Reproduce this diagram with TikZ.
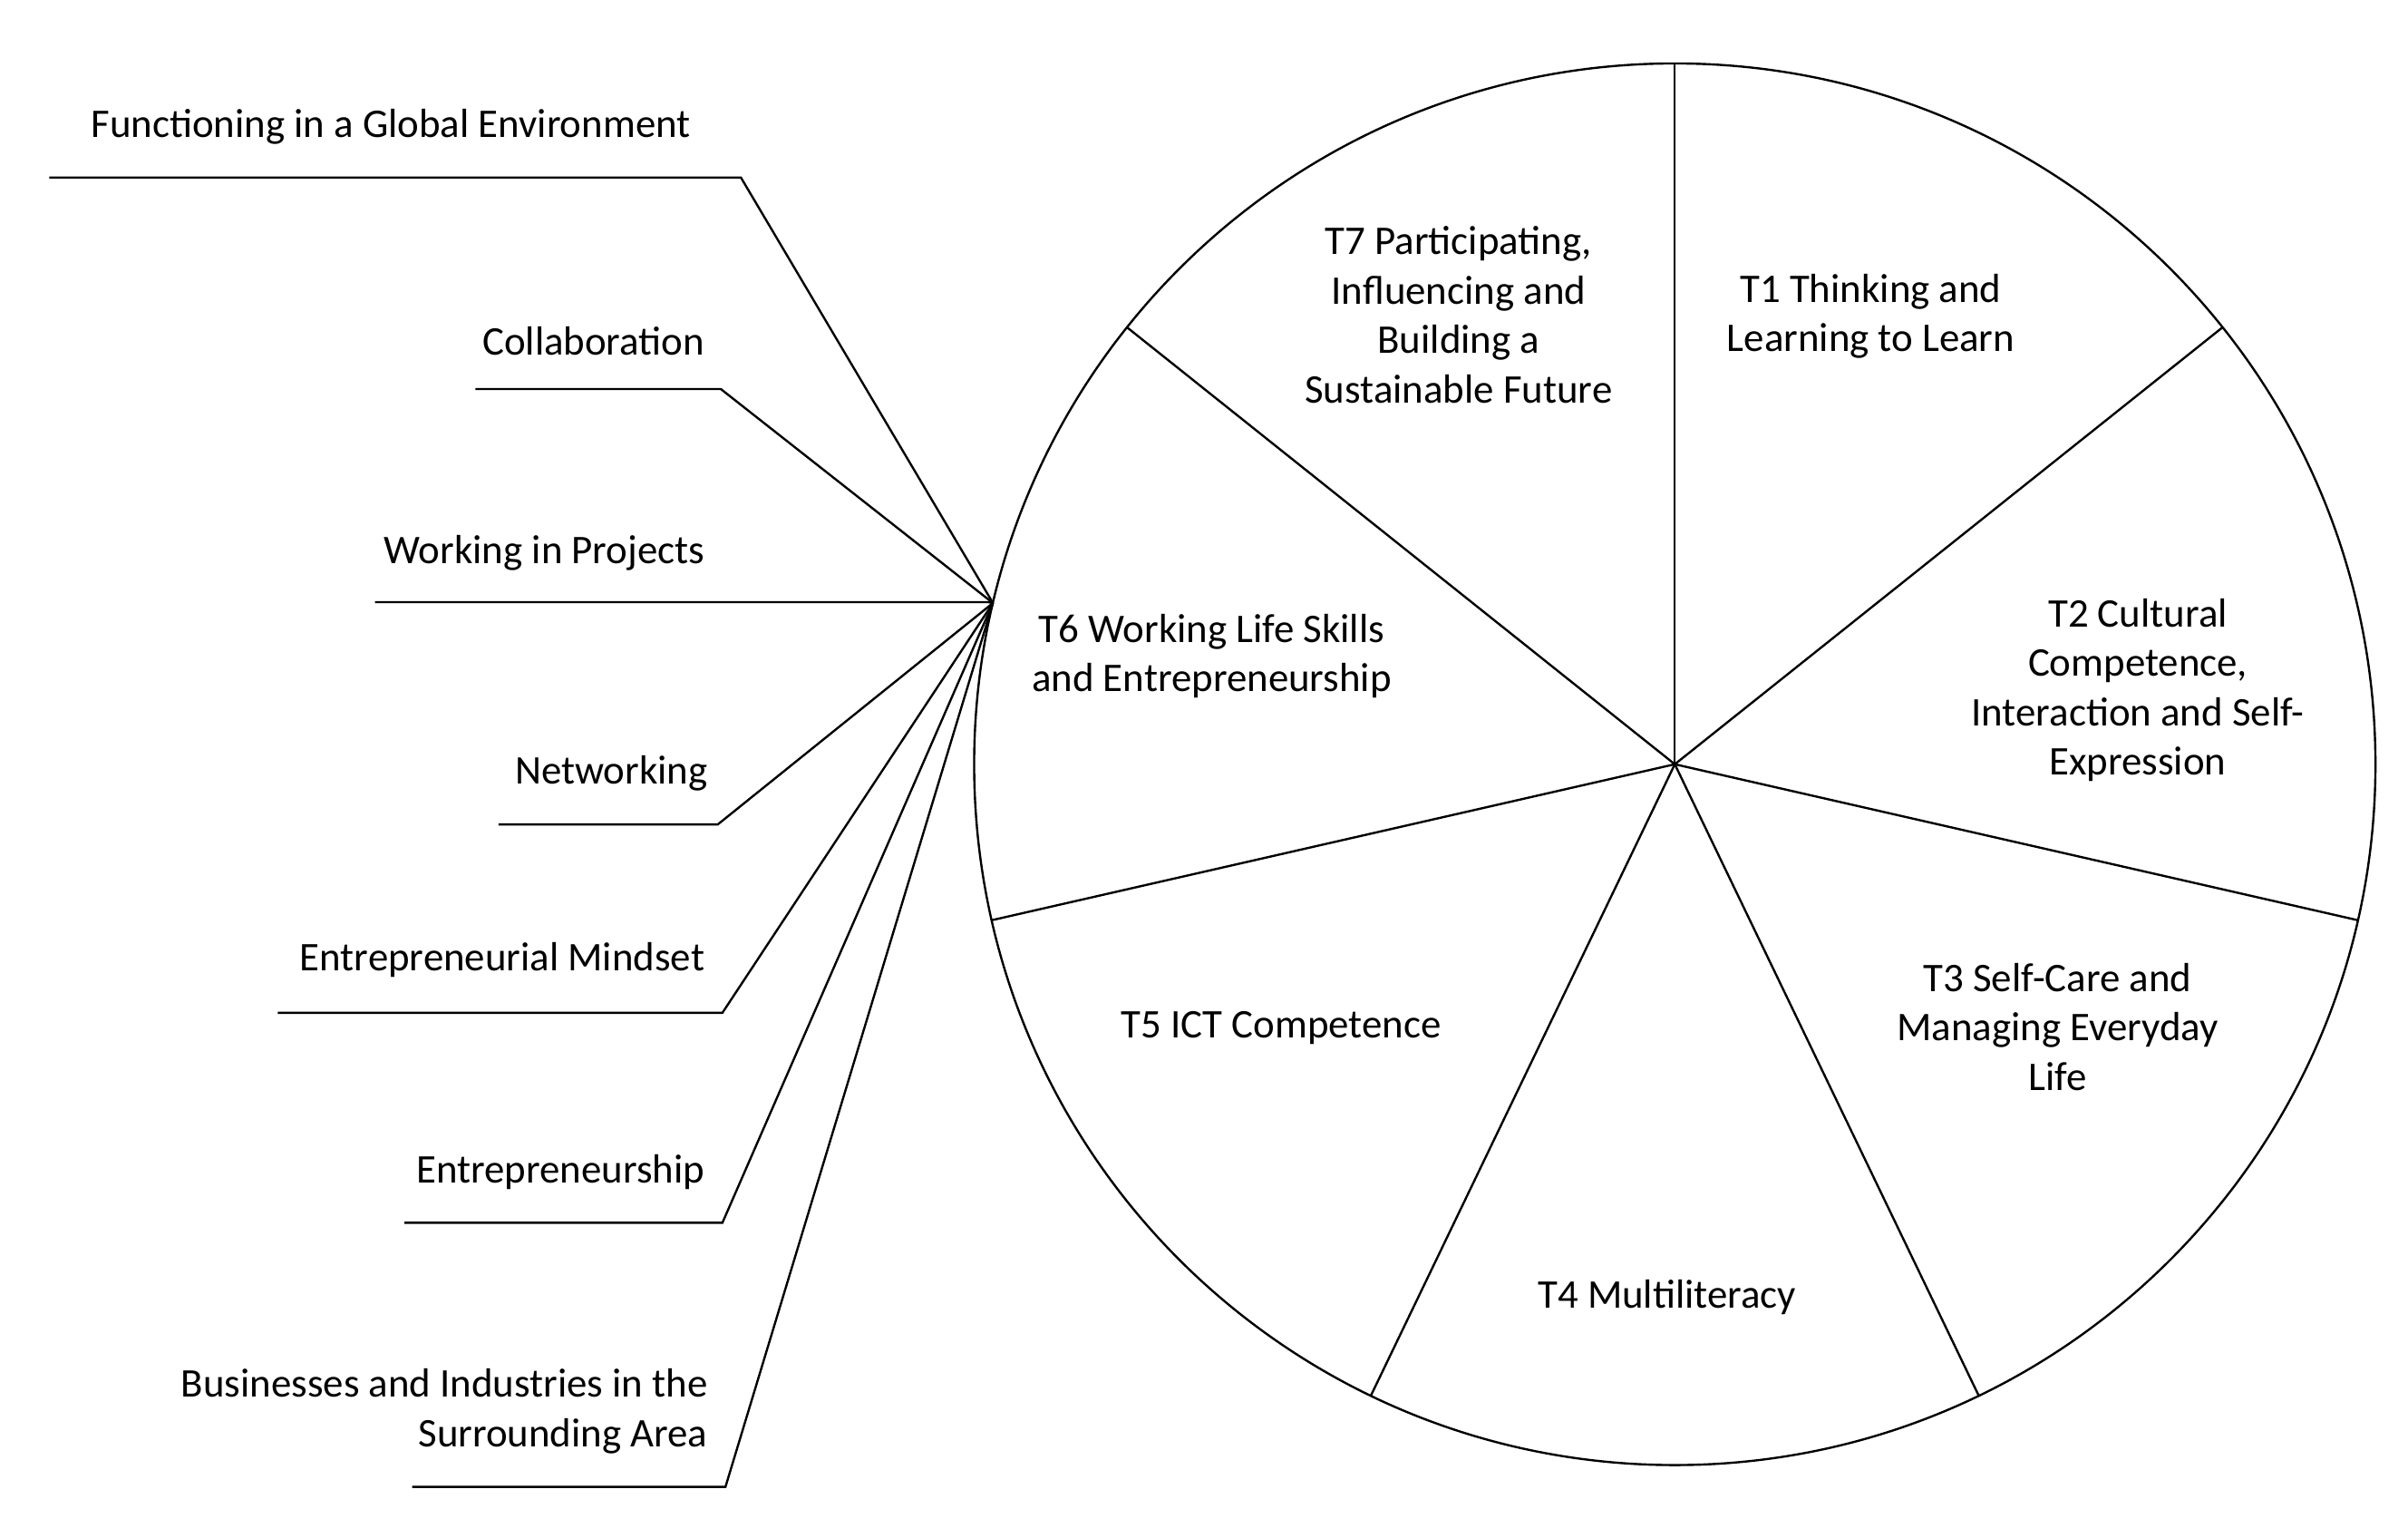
\documentclass[tikz,border=0pt]{standalone}
\usepackage{fontspec}
\setmainfont{Carlito}
\usetikzlibrary{calc}

\begin{document}
\begin{tikzpicture}[x=0.02cm, y=-0.02cm, line width=0.8pt,
  topic/.style={align=center, font=\fontsize{15}{18.2}\selectfont},
  skill/.style={anchor=east, align=right, font=\fontsize{15}{18.2}\selectfont}]

   % Rahmen
   \useasboundingbox (0,0) rectangle (1560,996);

   % Kreis und Sektoren
   \coordinate (c) at (1085,495);
   \draw (c) circle [radius=9.08cm];
   \foreach \a [count=\i] in {90,38.57,-12.86,-64.29,-115.71,-167.14,141.43}
      \draw (c) -- ($(c)+(\a:9.08cm)$) coordinate (s\i);
   \coordinate (hub) at ($(c)+(166.7:9.08cm)$);

   % Themen
   \node [topic] (t1) at (1212,205) {T1 Thinking and\\Learning to Learn};
   \node [topic] (t2) at (1385,447) {T2 Cultural\\Competence,\\Interaction and Self-\\Expression};
   \node [topic] (t3) at (1333,665) {T3 Self-Care and\\Managing Everyday\\Life};
   \node [topic] (t4) at (1080,840) {T4 Multiliteracy};
   \node [topic] (t5) at (830,666) {T5 ICT Competence};
   \node [topic] (t6) at (785,425) {T6 Working Life Skills\\and Entrepreneurship};
   \node [topic] (t7) at (945,204) {T7 Participating,\\Influencing and\\Building a\\Sustainable Future};

   % Teilbereiche von T6
   \foreach \name/\txt/\tx/\ty/\la/\lb/\ly in {
      glob/{Functioning in a Global Environment}/454/82/32/480/115,
      coll/{Collaboration}/463/221/308/467/252,
      proj/{Working in Projects}/463/358/243/640/390,
      netw/{Networking}/465/501/323/465/534,
      mind/{Entrepreneurial Mindset}/463/622/180/468/656,
      entr/{Entrepreneurship}/463/759/262/468/792,
      busi/{Businesses and Industries in the\\Surrounding Area}/465/914/267/470/963}
   {
      \node [skill] (\name) at (\tx,\ty) {\txt};
      \coordinate (\name-a) at (\la,\ly);
      \coordinate (\name-b) at (\lb,\ly);
      \draw (\name-a) -- (\name-b) -- (hub);
   }

\end{tikzpicture}
\end{document}
